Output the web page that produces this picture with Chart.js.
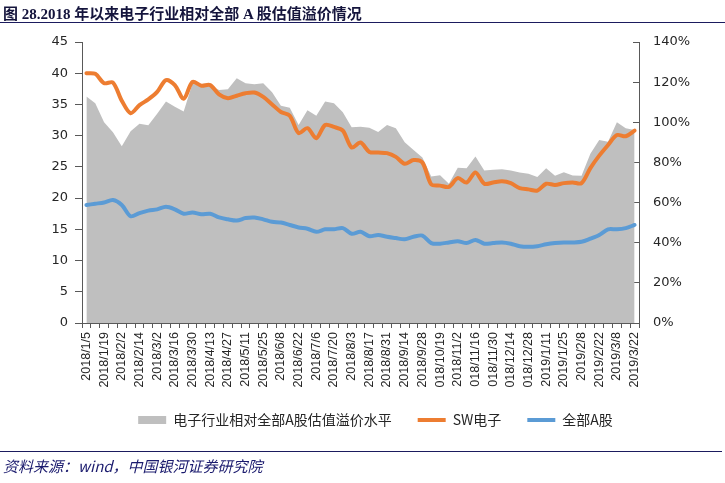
<!DOCTYPE html>
<html><head><meta charset="utf-8">
<script src="https://cdn.jsdelivr.net/npm/chart.js@4"></script>
<style>
html,body{margin:0;padding:0;background:#fff;}
#wrap{position:relative;width:725px;height:483px;overflow:hidden;background:#fff;}
#title{position:absolute;left:3px;top:2px;font:bold 15px "Liberation Serif","Noto Sans CJK SC";color:#14143c;white-space:nowrap;}
#tline{position:absolute;left:0;top:22px;width:725px;height:0;border-top:1.5px solid #1b1b5e;}
#fline{position:absolute;left:0;top:451px;width:722px;height:0;border-top:1.5px solid #1b1b5e;}
#src{position:absolute;left:3px;top:455px;font:italic 15px "Noto Sans CJK SC";color:#1b1b6e;white-space:nowrap;}
canvas{position:absolute;left:0;top:0;}
</style></head>
<body>
<div id="wrap">
<canvas id="c" width="725" height="483"></canvas>
<div id="title">图 28.2018 年以来电子行业相对全部 A 股估值溢价情况</div>
<div id="tline"></div>
<div id="fline"></div>
<div id="src">资料来源：wind，中国银河证券研究院</div>
</div>
<script>
const dates = ['2018/1/5','2018/1/12','2018/1/19','2018/1/26','2018/2/2','2018/2/9','2018/2/14','2018/2/23','2018/3/2','2018/3/9','2018/3/16','2018/3/23','2018/3/30','2018/4/4','2018/4/13','2018/4/20','2018/4/27','2018/5/4','2018/5/11','2018/5/18','2018/5/25','2018/6/1','2018/6/8','2018/6/15','2018/6/22','2018/6/29','2018/7/6','2018/7/13','2018/7/20','2018/7/27','2018/8/3','2018/8/10','2018/8/17','2018/8/24','2018/8/31','2018/9/7','2018/9/14','2018/9/21','2018/9/28','2018/10/12','2018/10/19','2018/10/26','2018/11/2','2018/11/9','2018/11/16','2018/11/23','2018/11/30','2018/12/7','2018/12/14','2018/12/21','2018/12/28','2019/1/4','2019/1/11','2019/1/18','2019/1/25','2019/2/1','2019/2/8','2019/2/15','2019/2/22','2019/3/1','2019/3/8','2019/3/15','2019/3/22'];

const premiumLabel = '电子行业相对全部A股估值溢价水平';
const swLabel = 'SW电子';
const allALabel = '全部A股';

// 电子行业相对全部A股估值溢价水平 (%; right axis)
const premium = [112.8,109.5,100,95,88,95.5,99.3,98.5,104.2,110.3,
  107.8,105.4,119.3,117.7,118.3,116.1,116.4,121.9,119.5,119.0,
  119.4,115,108.3,107.3,98.7,106,103.3,110.3,109.5,105,
  97.5,97.8,97.3,95.2,98.7,97,90,86.2,82.5,73,
  73.6,69.4,77.4,77.1,82.9,76,76.3,76.6,76,75,
  74.4,72.7,77.1,73.4,75.1,73.5,73.4,84.3,91.2,90.3,
  100,97,96.2];

// SW电子 PE (left axis)
const swElec = [40.0,39.9,38.4,38.5,35.6,33.6,34.9,35.8,37.0,38.9,
  38.1,35.9,38.6,38.0,38.1,36.6,36.0,36.4,36.8,36.9,
  36.2,35.0,33.8,33.2,30.4,31.2,29.6,31.7,31.4,30.8,
  28.1,28.9,27.4,27.3,27.2,26.6,25.5,26.1,25.7,22.2,
  22.0,21.8,23.2,22.5,24.1,22.3,22.5,22.7,22.4,21.6,
  21.4,21.2,22.3,22.1,22.4,22.5,22.4,24.8,26.8,28.5,
  30.1,29.9,30.8];

// 全部A股 PE (left axis)
const allA = [18.9,19.1,19.3,19.7,18.9,17.1,17.6,18.0,18.2,18.6,
  18.2,17.5,17.7,17.4,17.5,16.9,16.6,16.4,16.8,16.9,
  16.6,16.2,16.1,15.7,15.3,15.1,14.6,15.0,15.0,15.2,
  14.3,14.6,13.9,14.1,13.8,13.6,13.4,13.8,14.0,12.8,
  12.7,12.9,13.1,12.8,13.3,12.7,12.8,12.9,12.7,12.3,
  12.2,12.3,12.6,12.8,12.9,12.9,13.0,13.5,14.1,15.0,
  15.0,15.2,15.7];

const leftTicks = {min:0, max:45, step:5};
const rightTicks = {min:0, max:140, step:20};

const axisColor = '#595959';
const textColor = '#262626';

new Chart(document.getElementById('c'), {
  type: 'line',
  data: {
    labels: dates,
    datasets: [
      {label: premiumLabel, data: premium, yAxisID: 'y2', fill: 'origin', backgroundColor: '#BFBFBF',
       borderColor: 'rgba(0,0,0,0)', borderWidth: 0, pointRadius: 0, tension: 0, order: 3},
      {label: swLabel, data: swElec, yAxisID: 'y', borderColor: '#ED7D31', borderWidth: 4,
       pointRadius: 0, tension: 0.3, fill: false, borderCapStyle: 'round', borderJoinStyle: 'round', order: 1},
      {label: allALabel, data: allA, yAxisID: 'y', borderColor: '#5B9BD5', borderWidth: 4,
       pointRadius: 0, tension: 0.3, fill: false, borderCapStyle: 'round', borderJoinStyle: 'round', order: 2}
    ]
  },
  options: {
    responsive: false,
    animation: false,
    devicePixelRatio: 1,
    layout: {padding: {left: 26, right: 0, top: 42, bottom: 46}},
    plugins: {
      tooltip: {enabled: false},
      legend: {
        position: 'bottom',
        labels: {
          usePointStyle: true,
          pointStyleWidth: 28,
          boxHeight: 8,
          padding: 26,
          color: textColor,
          font: {family: '"Noto Sans CJK SC"', size: 14},
          generateLabels: (chart) => chart.data.datasets.map((d, i) => ({
            text: d.label,
            fillStyle: i === 0 ? '#BFBFBF' : d.borderColor,
            strokeStyle: i === 0 ? '#BFBFBF' : d.borderColor,
            lineWidth: i === 0 ? 0 : 4,
            pointStyle: i === 0 ? 'rect' : 'line',
            fontColor: textColor,
            hidden: false,
            datasetIndex: i
          }))
        }
      }
    },
    scales: {
      x: {
        offset: true,
        grid: {offset: true, drawOnChartArea: false, tickLength: 5, color: axisColor},
        border: {color: axisColor, width: 1},
        ticks: {
          autoSkip: false, maxRotation: 90, minRotation: 90, padding: 4,
          color: textColor, font: {family: '"Liberation Sans"', size: 12.5},
          callback: (v, i) => (i % 2 === 0 ? dates[i] : '')
        },
        afterFit: (s) => { s.height = 64; }
      },
      y: {
        position: 'left',
        min: leftTicks.min, max: leftTicks.max,
        grid: {drawOnChartArea: false, tickLength: 7, color: axisColor},
        border: {color: axisColor, width: 1},
        ticks: {stepSize: leftTicks.step, padding: 7, color: textColor, font: {family: '"DejaVu Sans"', size: 13}},
        afterFit: (s) => { s.width = 56; }
      },
      y2: {
        position: 'right',
        min: rightTicks.min, max: rightTicks.max,
        grid: {drawOnChartArea: false, tickLength: -6, color: axisColor},
        border: {color: axisColor, width: 1},
        ticks: {stepSize: rightTicks.step, padding: 20, color: textColor, font: {family: '"DejaVu Sans"', size: 13},
          callback: (v) => v + '%'},
        afterFit: (s) => { s.width = 86; }
      }
    }
  }
});
</script>
</body></html>
